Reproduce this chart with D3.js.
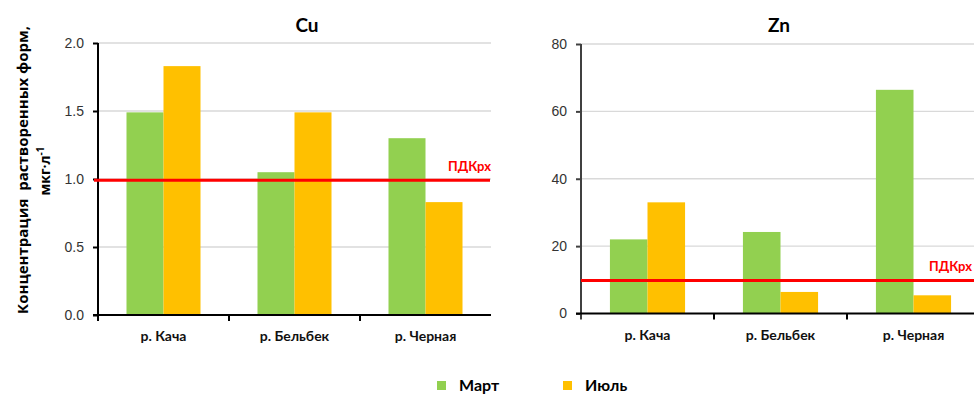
<!DOCTYPE html>
<html>
<head>
<meta charset="utf-8">
<script src="https://cdn.jsdelivr.net/npm/d3@7/dist/d3.min.js"></script>
<style>
  html, body { margin: 0; padding: 0; background: #fff; }
  svg { display: block; font-family: Lato, "Open Sans", "DejaVu Sans", sans-serif; }
</style>
</head>
<body>
<svg id="chart" width="974" height="395"></svg>
<script>
// River sampling sites and sampling months
const categories = ["р. Кача", "р. Бельбек", "р. Черная"];
const seriesNames = ["Март", "Июль"];

// Dissolved Cu, µg/L
const cuMarch = [1.49, 1.05, 1.30];
const cuJuly = [1.83, 1.49, 0.83];
const cuTicks = [0, 0.5, 1.0, 1.5, 2.0];
const cuLimit = 0.99;

// Dissolved Zn, µg/L
const znMarch = [22, 24.2, 66.4];
const znJuly = [33, 6.4, 5.4];
const znTicks = [0, 20, 40, 60, 80];
const znLimit = 9.8;

const limitLabel = "ПДКрх";
const colors = ["#92d050", "#ffc000"];
const limitColor = "#ff0000";

const svg = d3.select("#chart");

const panels = [
  { title: "Cu", series: [cuMarch, cuJuly], ticks: cuTicks, fmt: d3.format(".1f"),
    x: [98, 491], y: [315, 43], titleX: 307, limit: cuLimit, limitFrom: 94, limitTo: 490,
    labelX: 491, axisColor: "#000" },
  { title: "Zn", series: [znMarch, znJuly], ticks: znTicks, fmt: d3.format("d"),
    x: [581, 980], y: [313.5, 44], titleX: 779, limit: znLimit, limitFrom: 581, limitTo: 974,
    labelX: 972, axisColor: "#404040" }
];

panels.forEach(p => {
  const g = svg.append("g");
  const y = d3.scaleLinear().domain([p.ticks[0], p.ticks[p.ticks.length - 1]]).range(p.y);
  const x0 = d3.scaleBand().domain(categories).range(p.x).padding(0);
  const x1 = d3.scaleBand().domain(seriesNames).range([0, x0.bandwidth()])
    .paddingInner(0).paddingOuter(0.77);

  // horizontal gridlines
  g.append("g").selectAll("line")
    .data(p.ticks.filter(t => t > p.ticks[0]))
    .join("line")
    .attr("x1", p.x[0]).attr("x2", p.x[1])
    .attr("y1", d => y(d)).attr("y2", d => y(d))
    .attr("stroke", "#d9d9d9").attr("stroke-width", 1.3);

  // bars
  p.series.forEach((vals, si) => {
    g.append("g").selectAll("rect")
      .data(vals.map((v, i) => ({ cat: categories[i], v })))
      .join("rect")
      .attr("x", d => x0(d.cat) + x1(seriesNames[si]))
      .attr("width", x1.bandwidth())
      .attr("y", d => y(d.v))
      .attr("height", d => y(0) - y(d.v))
      .attr("fill", colors[si]);
  });

  // y axis
  const yAxis = g.append("g")
    .attr("transform", `translate(${p.x[0]},0)`)
    .call(d3.axisLeft(y).tickValues(p.ticks).tickFormat(p.fmt).tickSize(5).tickPadding(9).tickSizeOuter(0));
  yAxis.select(".domain").attr("stroke", p.axisColor).attr("stroke-width", 2)
    .attr("d", `M0,${p.y[1]}V${p.y[0] + 6}`);
  yAxis.selectAll(".tick line").attr("stroke", p.axisColor).attr("stroke-width", 2);
  yAxis.selectAll(".tick text").attr("fill", "#333").style("font-size", "14px");

  // x axis with category boundary ticks
  const xAxis = g.append("g").attr("transform", `translate(0,${y(0)})`);
  xAxis.append("line").attr("x1", p.x[0] - 5).attr("x2", p.x[1])
    .attr("stroke", "#000").attr("stroke-width", 2.2);
  xAxis.selectAll(".bt")
    .data(categories.slice(1).map(c => x0(c)))
    .join("line").attr("class", "bt")
    .attr("x1", d => d).attr("x2", d => d).attr("y1", 0).attr("y2", 6)
    .attr("stroke", "#000").attr("stroke-width", 2);
  xAxis.selectAll("text")
    .data(categories)
    .join("text")
    .attr("x", d => x0(d) + x0.bandwidth() / 2)
    .attr("y", 26)
    .attr("text-anchor", "middle")
    .attr("fill", "#111")
    .style("font-size", "14px").style("font-weight", "bold")
    .text(d => d);

  // threshold line
  g.append("line")
    .attr("x1", p.limitFrom).attr("x2", p.limitTo)
    .attr("y1", y(p.limit)).attr("y2", y(p.limit))
    .attr("stroke", limitColor).attr("stroke-width", 3);
  g.append("text")
    .attr("x", p.labelX).attr("y", y(p.limit) - 9)
    .attr("text-anchor", "end")
    .attr("fill", limitColor)
    .style("font-size", "13px").style("font-weight", "bold")
    .text(limitLabel);

  // panel title
  g.append("text")
    .attr("x", p.titleX).attr("y", 31.5)
    .attr("text-anchor", "middle")
    .attr("fill", "#000")
    .style("font-size", "19px").style("font-weight", "bold")
    .text(p.title);
});

// y axis title
const yTitle = svg.append("g")
  .style("font-family", "'Open Sans', Lato, sans-serif")
  .style("font-weight", "bold").style("font-size", "15px").attr("fill", "#000");
yTitle.append("text")
  .attr("transform", "translate(28,170) rotate(-90)")
  .attr("text-anchor", "middle")
  .style("white-space", "pre")
  .text("Концентрация  растворенных форм,");
const unit = yTitle.append("text")
  .attr("transform", "translate(50,171) rotate(-90)")
  .attr("text-anchor", "middle")
  .style("font-size", "14px");
unit.append("tspan").text("мкг·л");
unit.append("tspan").attr("dy", -6).style("font-size", "10px").text("-1");

// legend
const legend = svg.append("g");
const legendX = [437, 563];
seriesNames.forEach((name, i) => {
  legend.append("rect")
    .attr("x", legendX[i]).attr("y", 381).attr("width", 9).attr("height", 9)
    .attr("fill", colors[i]);
  legend.append("text")
    .attr("x", legendX[i] + 22).attr("y", 391)
    .attr("fill", "#000")
    .style("font-size", "16px").style("font-weight", "bold")
    .text(name);
});
</script>
</body>
</html>
